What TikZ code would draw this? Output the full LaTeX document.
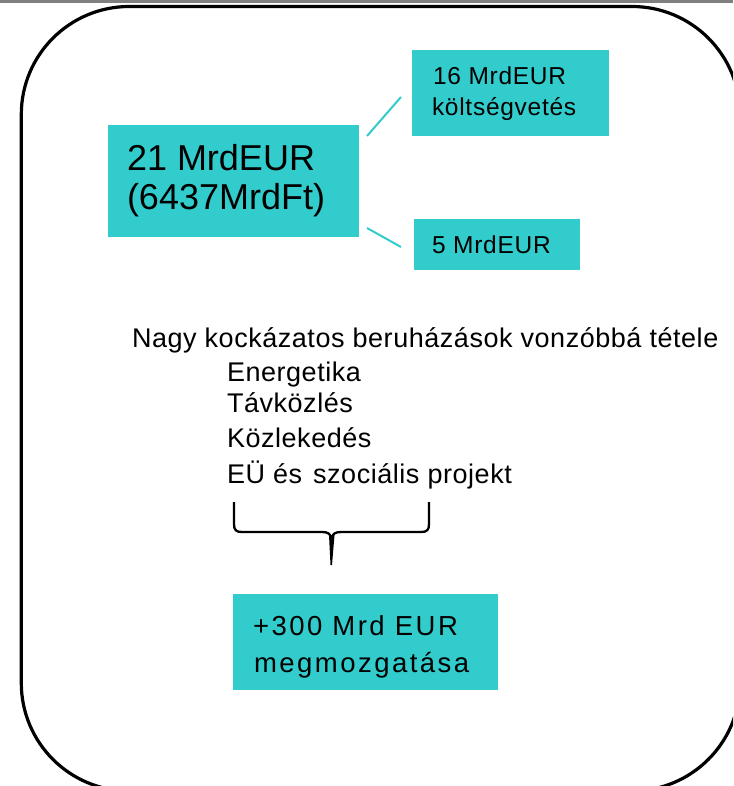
\documentclass[tikz,border=0pt]{standalone}
\usepackage{fontspec}
\setmainfont{Liberation Sans}
\definecolor{tealbox}{HTML}{33CCCC}
\definecolor{topbar}{HTML}{808080}
\begin{document}
\begin{tikzpicture}[x=1pt,y=-1pt,
  box/.style={fill=tealbox, draw=none, inner sep=0pt, outer sep=0pt},
  txt/.style={anchor=base west, inner sep=0pt, outer sep=0pt},
  bigfont/.style={font=\fontsize{36}{40}\selectfont},
  midfont/.style={font=\fontsize{24.5}{28}\selectfont\addfontfeatures{LetterSpace=3}},
  mainfont/.style={font=\fontsize{27}{30}\selectfont\addfontfeatures{LetterSpace=2}},
  lowfont/.style={font=\fontsize{27.5}{30}\selectfont\addfontfeatures{LetterSpace=9}},
  link/.style={draw=tealbox, line width=2pt},
  braceline/.style={draw=black, line width=2.3pt, line join=round}
]
\useasboundingbox (0,0) rectangle (733,786);
\clip (0,0) rectangle (733,786);
% top grey bar
\fill[topbar] (0,0) rectangle (733,3.5);
% big rounded frame
\draw[line width=3.2pt, rounded corners=108pt] (21.3,6.5) rectangle (740,791);

% boxes
\node[box, minimum width=251pt, minimum height=112pt] (big) at (233.5,181) {};
\node[box, minimum width=197pt, minimum height=86pt] (budget) at (510.5,93) {};
\node[box, minimum width=166pt, minimum height=51pt] (five) at (497,244.5) {};
\node[box, minimum width=265pt, minimum height=96pt] (mobil) at (365.5,642) {};

% box texts
\node[txt, bigfont] (bigA) at (127,171) {21 MrdEUR};
\node[txt, bigfont] (bigB) at (127,210) {(6437MrdFt)};
\node[txt, midfont] (budA) at (433,85) {16 MrdEUR};
\node[txt, midfont] (budB) at (432,116) {költségvetés};
\node[txt, midfont] (fiveA) at (432,253) {5 MrdEUR};
\node[txt, lowfont] (mobA) at (253,635) {+300 Mrd EUR};
\node[txt, lowfont] (mobB) at (254,672) {megmozgatása};

% connectors
\coordinate (l1a) at (367,136);
\coordinate (l1b) at (401,97);
\coordinate (l2a) at (367,228);
\coordinate (l2b) at (401,247);
\draw[link] (l1a) -- (l1b);
\draw[link] (l2a) -- (l2b);

% main text
\node[txt, mainfont] (head) at (132,347) {Nagy kockázatos beruházások vonzóbbá tétele};
\node[txt, mainfont] (it1) at (227,381) {Energetika};
\node[txt, mainfont] (it2) at (227,412.5) {Távközlés};
\node[txt, mainfont] (it3) at (227,447) {Közlekedés};
\node[txt, mainfont] (it4) at (227,483) {EÜ és\hspace{3pt} szociális projekt};

% brace
\draw[braceline] (234,502) -- (234,524) .. controls (234,530) and (236,532) .. (242,532)
  -- (322,532) .. controls (328,532) and (330.5,534) .. (331,538);
\draw[braceline] (429,502) -- (429,524) .. controls (429,530) and (427,532) .. (421,532)
  -- (341,532) .. controls (335,532) and (332.5,534) .. (332,538);
\fill[black] (329,535) -- (334.5,535) -- (332,565) -- (330.5,565) -- cycle;
\end{tikzpicture}
\end{document}
